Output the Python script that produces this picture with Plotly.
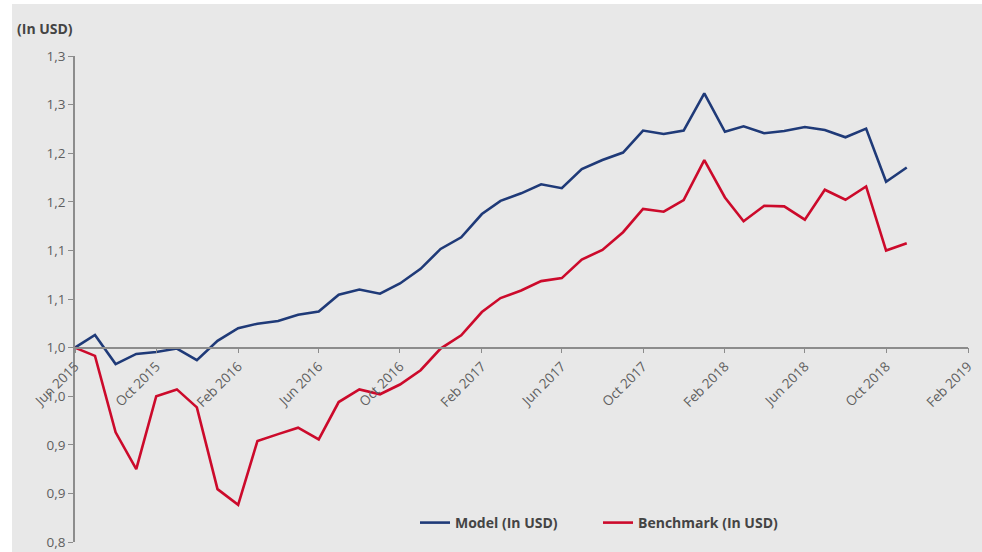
import plotly.graph_objects as go
import pandas as pd

months = [d.strftime("%Y-%m-%d") for d in pd.date_range("2015-06-01", periods=42, freq="MS")]

model = [1.000, 1.013, 0.983, 0.9935, 0.9955, 0.999, 0.987, 1.007, 1.020, 1.0246,
         1.0274, 1.0338, 1.0372, 1.0544, 1.0598, 1.0554, 1.066, 1.081, 1.1015, 1.1135,
         1.1374, 1.151, 1.1587, 1.168, 1.164, 1.1836, 1.193, 1.2007, 1.2233, 1.2198,
         1.2233, 1.2615, 1.222, 1.2277, 1.2205, 1.2229, 1.227, 1.2239, 1.2164, 1.2253,
         1.1706, 1.1853]

benchmark = [1.000, 0.9915, 0.9128, 0.8749, 0.950, 0.957, 0.9385, 0.8544, 0.8383, 0.904,
             0.911, 0.9176, 0.9056, 0.944, 0.957, 0.952, 0.962, 0.9767, 0.999, 1.0126,
             1.0366, 1.051, 1.0588, 1.0684, 1.0715, 1.0906, 1.1005, 1.1187, 1.1426, 1.1398,
             1.1518, 1.1928, 1.1545, 1.13, 1.146, 1.1453, 1.1316, 1.1624, 1.1521, 1.1658,
             1.0998, 1.1074]

y_tickvals = [0.8, 0.85, 0.9, 0.95, 1.0, 1.05, 1.1, 1.15, 1.2, 1.25, 1.3]
y_ticktext = ["0,8", "0,9", "0,9", "1,0", "1,0", "1,1", "1,1", "1,2", "1,2", "1,3", "1,3"]

BLUE = "#1f3a78"
RED = "#cc0a2b"
AXIS = "#8c8c8c"
TEXT = "#5f5f5f"
FONT = "Open Sans, DejaVu Sans, sans-serif"

fig = go.Figure()
fig.add_trace(go.Scatter(x=months, y=model, mode="lines", name="Model (In USD)",
                         line=dict(color=BLUE, width=2.6)))
fig.add_trace(go.Scatter(x=months, y=benchmark, mode="lines", name="Benchmark (In USD)",
                         line=dict(color=RED, width=2.6)))

L, R, T, B = 75, 14, 56, 10
W, H = 982, 552
pw, ph = W - L - R, H - T - B

fig.update_layout(
    width=W, height=H,
    margin=dict(l=L, r=R, t=T, b=B),
    paper_bgcolor="white",
    plot_bgcolor="rgba(0,0,0,0)",
    font=dict(family=FONT, size=13, color=TEXT),
    showlegend=True,
    legend=dict(orientation="h", x=(598 - L) / pw, y=(H - B - 523) / ph,
                xanchor="center", yanchor="middle",
                bgcolor="rgba(0,0,0,0)",
                font=dict(size=14, color="#444444", family=FONT, weight="bold"),
                entrywidth=138, entrywidthmode="pixels", tracegroupgap=0),
    xaxis=dict(
        type="date",
        range=["2015-06-01", "2019-02-01"],
        tick0="2015-06-01", dtick="M4", tickformat="%b %Y",
        tickangle=-45,
        showgrid=False, zeroline=False,
        showline=True, linecolor=AXIS, linewidth=1.5,
        ticks="outside", ticklen=5, tickcolor=AXIS, tickwidth=1,
        anchor="free", position=(1.0 - 0.8) / 0.5,
        tickfont=dict(size=13.5, color=TEXT),
        ticklabeloverflow="allow", automargin=False,
    ),
    yaxis=dict(
        range=[0.8, 1.3],
        tickvals=y_tickvals, ticktext=y_ticktext,
        showgrid=False, zeroline=False,
        showline=True, linecolor=AXIS, linewidth=1.5,
        ticks="outside", ticklen=5, tickcolor=AXIS, tickwidth=1,
        tickfont=dict(size=13.5, color=TEXT),
        ticklabeloverflow="allow", automargin=False,
    ),
    shapes=[dict(type="rect", xref="paper", yref="paper", layer="below",
                 x0=(12 - L) / pw, x1=(W - L) / pw,
                 y0=-B / ph, y1=(H - B - 4) / ph,
                 fillcolor="#e8e8e8", line=dict(width=0))],
    annotations=[dict(text="<b>(In USD)</b>", xref="paper", yref="paper",
                      x=(15 - L) / pw, y=(H - B - 28) / ph,
                      xanchor="left", yanchor="middle", showarrow=False,
                      font=dict(size=14, color="#444444"))],
)

fig.write_html("out.html", config={"displayModeBar": False},
               post_script="document.body.style.margin='0';document.body.style.overflow='hidden';")
